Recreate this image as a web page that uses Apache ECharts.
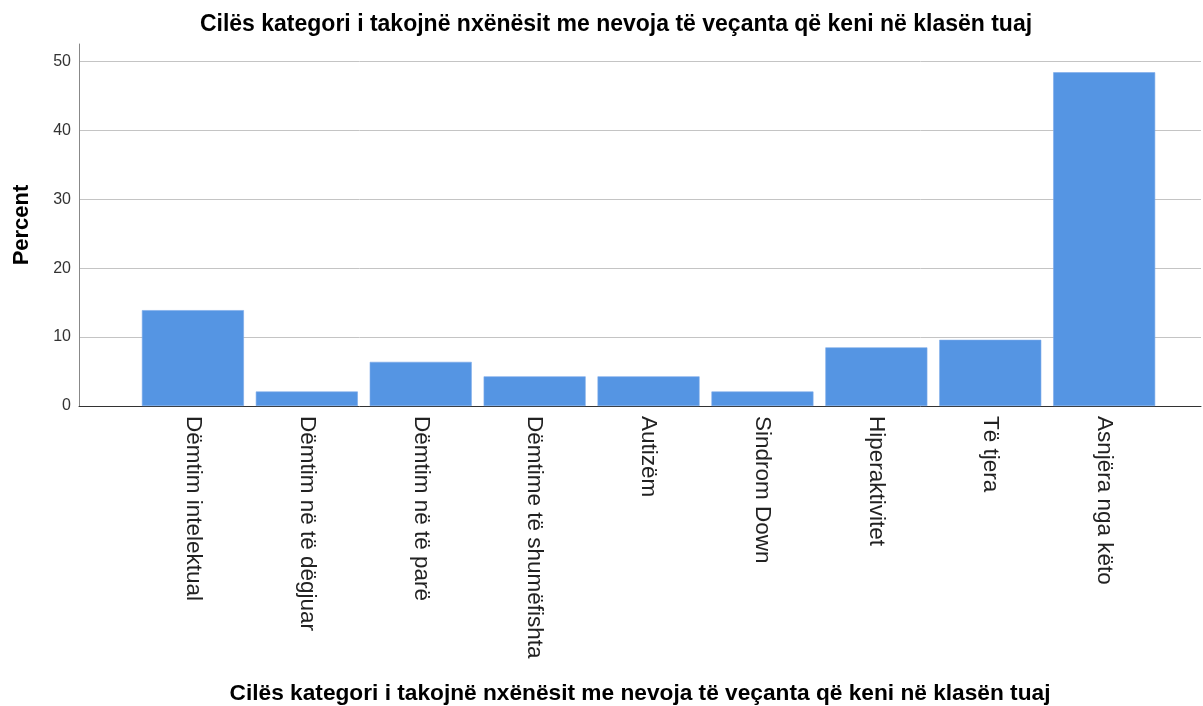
<!DOCTYPE html>
<html>
<head>
<meta charset="utf-8">
<script src="https://cdn.jsdelivr.net/npm/echarts@6/dist/echarts.min.js"></script>
<style>
html,body{margin:0;padding:0;background:#fff;}
#chart{width:1203px;height:706px;}
</style>
</head>
<body>
<div id="chart"></div>
<script>
const chartTitle = "Cilës kategori i takojnë nxënësit me nevoja të veçanta që keni në klasën tuaj";
const xAxisTitle = "Cilës kategori i takojnë nxënësit me nevoja të veçanta që keni në klasën tuaj";
const yAxisTitle = "Percent";
const categories = [
  "Dëmtim intelektual",
  "Dëmtim në të dëgjuar",
  "Dëmtim në të parë",
  "Dëmtime të shumëfishta",
  "Autizëm",
  "Sindrom Down",
  "Hiperaktivitet",
  "Të tjera",
  "Asnjëra nga këto"
];
const percents = [13.9, 2.1, 6.4, 4.3, 4.3, 2.1, 8.5, 9.6, 48.4];
const yTicks = [0, 10, 20, 30, 40, 50];

const font = '"Liberation Sans", Arial, sans-serif';
const chart = echarts.init(document.getElementById('chart'), null, {renderer: 'canvas'});
chart.setOption({
  animation: false,
  backgroundColor: '#ffffff',
  title: {
    text: chartTitle,
    left: 611, top: 8, textAlign: 'center',
    textStyle: {fontFamily: font, fontSize: 23, fontWeight: 'bold', color: '#000'}
  },
  grid: {left: 79, right: 2, top: 44, bottom: 300, containLabel: false, outerBoundsMode: 'none'},
  xAxis: {
    type: 'value',
    min: -1, max: 8.85, interval: 1,
    name: xAxisTitle,
    nameLocation: 'middle',
    nameGap: 276,
    nameTextStyle: {fontFamily: font, fontSize: 22.7, fontWeight: 'bold', color: '#000'},
    axisLine: {show: true, lineStyle: {color: '#333', width: 1}},
    axisTick: {show: false},
    splitLine: {show: false},
    axisLabel: {
      rotate: -90,
      margin: 10,
      showMaxLabel: false,
      showMinLabel: false,
      fontFamily: font, fontSize: 22.5, color: '#222',
      formatter: function (v) {
        const i = Math.round(v);
        return (Math.abs(v - i) < 1e-6 && i >= 0 && i < categories.length) ? categories[i] : '';
      }
    }
  },
  yAxis: {
    type: 'value',
    min: yTicks[0], max: 52.5, interval: 10,
    name: yAxisTitle,
    nameLocation: 'middle',
    nameRotate: 90,
    nameGap: 46,
    nameTextStyle: {fontFamily: font, fontSize: 22, fontWeight: 'bold', color: '#000'},
    axisLine: {show: true, onZero: false, lineStyle: {color: '#888', width: 1}},
    axisTick: {show: false},
    axisLabel: {
      showMaxLabel: false, margin: 8,
      fontFamily: font, fontSize: 16, color: '#333',
      formatter: function (v) { return yTicks.indexOf(v) >= 0 ? String(v) : ''; }
    },
    splitLine: {show: true, showMinLine: false, showMaxLine: false, lineStyle: {color: '#c4c4c4', width: 1}}
  },
  series: [{
    type: 'bar',
    barWidth: 102,
    data: percents.map(function (p, i) { return [i, p]; }),
    itemStyle: {color: '#5595E3', borderColor: '#7aaaea', borderWidth: 0.6}
  }]
});
</script>
</body>
</html>
